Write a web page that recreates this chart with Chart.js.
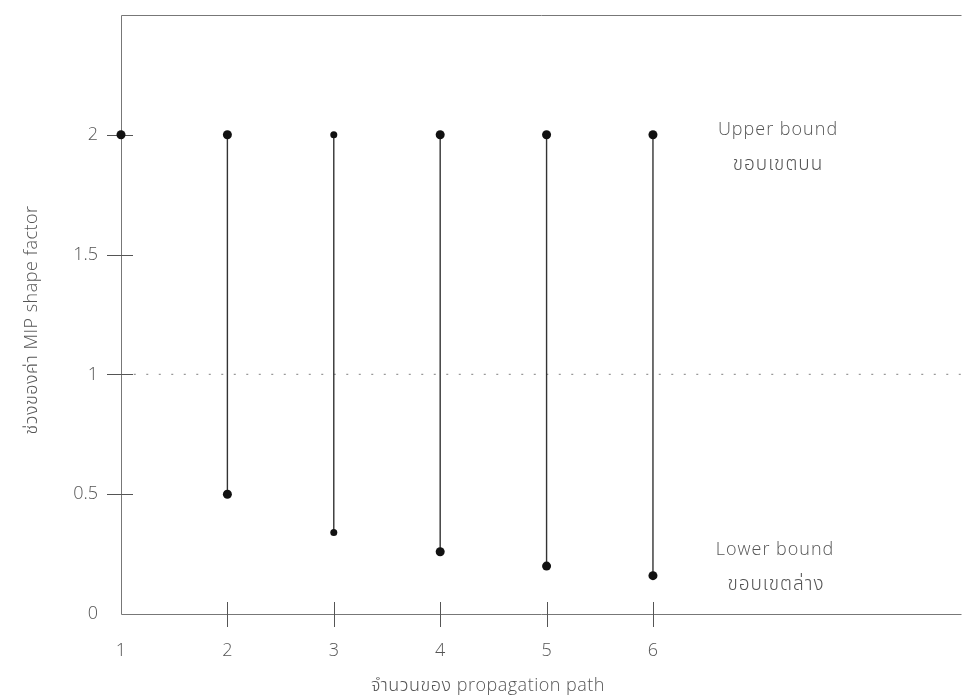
<!DOCTYPE html>
<html>
<head>
<meta charset="utf-8">
<script src="https://cdn.jsdelivr.net/npm/chart.js@4/dist/chart.umd.min.js"></script>
<style>
html,body{margin:0;padding:0;background:#fff;}
#wrap{width:966px;height:698px;position:relative;}
</style>
</head>
<body>
<div id="wrap"><canvas id="c" width="966" height="698"></canvas></div>
<script>
// Data
const paths = [1, 2, 3, 4, 5, 6];
const upperBound = [2, 2, 2, 2, 2, 2];
const lowerBound = [null, 0.5, 0.34, 0.26, 0.2, 0.16];
const referenceLevel = 1;
const xTickLabels = [1, 2, 3, 4, 5, 6];
const yTickLabels = [0, 0.5, 1, 1.5, 2];
const xTitle = 'จำนวนของ propagation path';
const yTitle = 'ช่วงของค่า MIP shape factor';
const upperLabel = ['Upper bound', 'ขอบเขตบน'];
const lowerLabel = ['Lower bound', 'ขอบเขตล่าง'];

const FONT = "'Open Sans', 'Noto Sans Thai', 'Noto Sans Thai UI', Loma, Garuda, 'Noto Sans', sans-serif";
const TXT = '#555';
const AX = '#777';

const upperPts = paths.map((p, i) => ({x: p, y: upperBound[i]}));
const lowerPts = paths.map((p, i) => ({x: p, y: lowerBound[i]})).filter(d => d.y !== null);
const stemPts = [];
paths.forEach((p, i) => {
  if (lowerBound[i] !== null) {
    stemPts.push({x: p, y: lowerBound[i]}, {x: p, y: upperBound[i]}, {x: p, y: null});
  }
});

const decor = {
  id: 'decor',
  beforeDatasetsDraw(chart) {
    const {ctx, chartArea: a, scales: {x, y}} = chart;
    ctx.save();
    ctx.strokeStyle = AX;
    ctx.lineWidth = 1;
    ctx.beginPath();
    ctx.moveTo(a.right, a.top + 0.5); ctx.lineTo(a.left + 0.5, a.top + 0.5);
    ctx.lineTo(a.left + 0.5, a.bottom + 0.5); ctx.lineTo(a.right, a.bottom + 0.5);
    ctx.stroke();
    ctx.strokeStyle = '#555';
    ctx.beginPath();
    xTickLabels.forEach(v => {
      if (v === x.min) return;
      const px = Math.round(x.getPixelForValue(v)) + 0.5;
      ctx.moveTo(px, a.bottom - 12); ctx.lineTo(px, a.bottom + 13);
    });
    yTickLabels.forEach(v => {
      if (v === 0) return;
      const py = Math.round(y.getPixelForValue(v)) + 0.5;
      ctx.moveTo(a.left - 14, py); ctx.lineTo(a.left + 12, py);
    });
    ctx.stroke();
    ctx.restore();
  },
  afterDraw(chart) {
    const {ctx} = chart;
    ctx.save();
    ctx.fillStyle = TXT;
    ctx.textAlign = 'center';
    ctx.textBaseline = 'middle';
    ctx.font = '300 18px ' + FONT;
    ctx.letterSpacing = '0.5px';
    ctx.fillText(xTitle, 488, 686);
    ctx.save();
    ctx.translate(32, 320);
    ctx.rotate(-Math.PI / 2);
    ctx.fillText(yTitle, 0, 0);
    ctx.restore();
    ctx.letterSpacing = '1px';
    ctx.font = '300 18px ' + FONT;
    ctx.fillText(upperLabel[0], 778, 130);
    ctx.fillText(lowerLabel[0], 775, 550);
    ctx.font = '300 19px ' + FONT;
    ctx.fillText(upperLabel[1], 778, 165);
    ctx.fillText(lowerLabel[1], 776, 585);
    ctx.restore();
  }
};

new Chart(document.getElementById('c'), {
  type: 'scatter',
  data: {
    datasets: [
      {
        label: 'ref', data: [{x: 1.12, y: referenceLevel}, {x: 8.9, y: referenceLevel}],
        showLine: true, borderColor: '#999', borderWidth: 1.3, borderDash: [2, 10.5],
        pointRadius: 0, order: 5
      },
      {
        label: 'stems', data: stemPts, showLine: true, spanGaps: false,
        borderColor: '#333', borderWidth: 1.4, pointRadius: 0, order: 3
      },
      {
        label: 'upper', data: upperPts, backgroundColor: '#111', borderColor: '#111',
        pointRadius: upperPts.map(d => d.x === 3 ? 3.5 : 4.5), pointBorderWidth: 0, order: 1, clip: false
      },
      {
        label: 'lower', data: lowerPts, backgroundColor: '#111', borderColor: '#111',
        pointRadius: lowerPts.map(d => d.x === 3 ? 3.5 : 4.5), pointBorderWidth: 0, order: 1, clip: false
      }
    ]
  },
  options: {
    responsive: false,
    animation: false,
    layout: {padding: {top: 15, right: 2, left: 0, bottom: 0}},
    plugins: {legend: {display: false}, tooltip: {enabled: false}},
    elements: {line: {tension: 0}},
    scales: {
      x: {
        type: 'linear', min: 1, max: 8.9,
        afterBuildTicks: s => { s.ticks = xTickLabels.map(v => ({value: v})); },
        afterFit: s => { s.height = 84; s.paddingLeft = 0; s.paddingRight = 0; },
        grid: {display: false, drawTicks: false},
        border: {display: false},
        ticks: {color: TXT, font: {family: FONT, size: 18, weight: 300}, padding: 26, maxRotation: 0,
                callback: v => String(v)}
      },
      y: {
        type: 'linear', min: 0, max: 2.5,
        afterBuildTicks: s => { s.ticks = yTickLabels.map(v => ({value: v})); },
        afterFit: s => { s.width = 121; s.paddingTop = 0; s.paddingBottom = 0; },
        grid: {display: false, drawTicks: false},
        border: {display: false},
        ticks: {color: TXT, font: {family: FONT, size: 18, weight: 300}, padding: 23,
                callback: v => String(v)}
      }
    }
  },
  plugins: [decor]
});
</script>
</body>
</html>
